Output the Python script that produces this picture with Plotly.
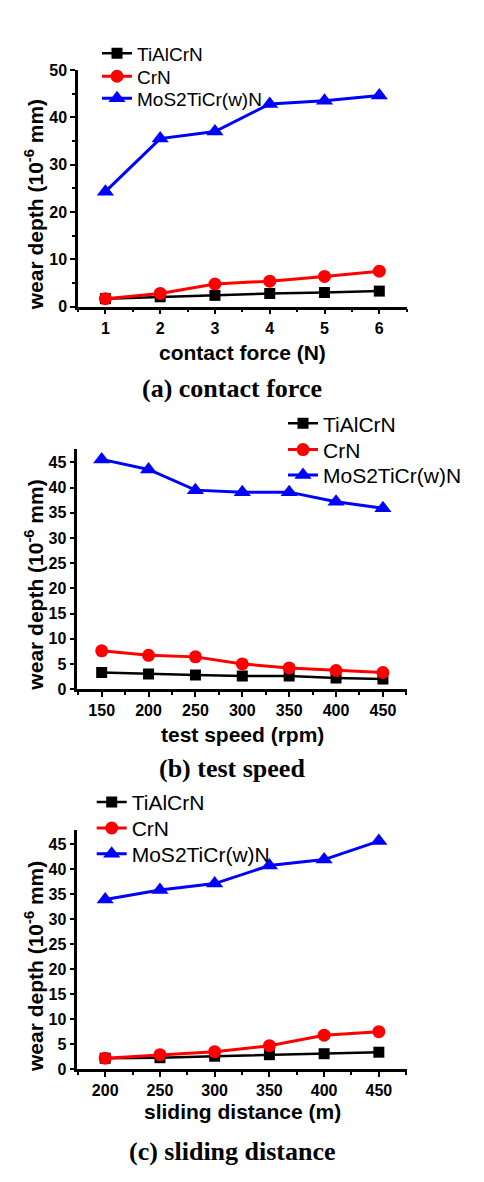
import plotly.graph_objects as go

# ---------------- data ----------------
series_names = ["TiAlCrN", "CrN", "MoS2TiCr(w)N"]

force_x = [1, 2, 3, 4, 5, 6]
force_tialcrn = [1.7, 2.1, 2.4, 2.8, 3.0, 3.3]
force_crn = [1.7, 2.8, 4.8, 5.4, 6.4, 7.5]
force_mos2 = [24.3, 35.5, 37.0, 42.8, 43.5, 44.6]

speed_x = [150, 200, 250, 300, 350, 400, 450]
speed_tialcrn = [3.3, 3.0, 2.8, 2.6, 2.6, 2.2, 2.0]
speed_crn = [7.6, 6.7, 6.4, 5.0, 4.2, 3.7, 3.3]
speed_mos2 = [45.6, 43.6, 39.5, 39.1, 39.1, 37.2, 35.9]

dist_x = [200, 250, 300, 350, 400, 450]
dist_tialcrn = [2.2, 2.3, 2.6, 2.9, 3.1, 3.4]
dist_crn = [2.2, 2.9, 3.5, 4.7, 6.8, 7.5]
dist_mos2 = [33.9, 35.8, 37.1, 40.7, 41.9, 45.6]

x_titles = ["contact force (N)", "test speed (rpm)", "sliding distance (m)"]
captions = ["(a) contact force", "(b) test speed", "(c) sliding distance"]
y_title = "wear depth (10<sup>-6</sup> mm)"

# ---------------- style ----------------
# page body has an 8px margin, so the figure is 8px smaller than the window
W, H = 476, 1174
colors = ["#000000", "#FF0000", "#0000FF"]
symbols = ["square", "circle", "triangle-up"]
msizes = [11, 13, 15]
lwidths = [2.5, 3, 3]

def py(px):
    return 1 - px / H

def pxx(px):
    return px / W

panels = [
    dict(x=force_x, ys=[force_tialcrn, force_crn, force_mos2],
         xdom=[pxx(70), pxx(398.7)], ydom=[py(295), py(54.7)],
         xrange=[0.5, 6.5], yrange=[0, 50], xd=1, xmd=0.5, yd=10, ymd=5,
         yminor=True,
         leg_x=89, leg_y=[38, 61.3, 83.7], fs=19,
         ytitle_y=192, xtitle_y=341, cap_y=378),
    dict(x=speed_x, ys=[speed_tialcrn, speed_crn, speed_mos2],
         xdom=[pxx(69.3), pxx(399.3)], ydom=[py(683), py(439.7)],
         xrange=[124, 476], yrange=[0, 47.6], xd=50, xmd=25, yd=5, ymd=2.5,
         yminor=False,
         leg_x=275, leg_y=[413.7, 440.3, 466], fs=21,
         ytitle_y=578, xtitle_y=729, cap_y=764),
    dict(x=dist_x, ys=[dist_tialcrn, dist_crn, dist_mos2],
         xdom=[pxx(69.3), pxx(399.3)], ydom=[py(1068.7), py(826)],
         xrange=[174.5, 476], yrange=[0, 47.8], xd=50, xmd=25, yd=5, ymd=2.5,
         yminor=False,
         leg_x=83.7, leg_y=[798, 824.3, 850.3], fs=21,
         ytitle_y=965, xtitle_y=1112, cap_y=1152),
]

fig = go.Figure()
layout = dict(width=W, height=H, margin=dict(l=0, r=0, t=0, b=0),
              paper_bgcolor="white", plot_bgcolor="white", annotations=[],
              showlegend=True)

leg_counter = 0
for i, p in enumerate(panels):
    n = "" if i == 0 else str(i + 1)
    for j in range(3):
        leg_counter += 1
        legname = "legend" if leg_counter == 1 else "legend" + str(leg_counter)
        fig.add_trace(go.Scatter(
            x=p["x"], y=p["ys"][j], name=series_names[j],
            mode="lines+markers", showlegend=True,
            line=dict(color=colors[j], width=lwidths[j]),
            marker=dict(symbol=symbols[j], size=msizes[j], color=colors[j]),
            xaxis="x" + n, yaxis="y" + n, legend=legname, cliponaxis=False))
        layout[legname] = dict(x=pxx(p["leg_x"]), y=py(p["leg_y"][j]),
                               xanchor="left", yanchor="middle",
                               bgcolor="rgba(0,0,0,0)", borderwidth=0,
                               visible=True,
                               font=dict(family="Liberation Sans",
                                         size=p["fs"], color="black"))
    axcommon = dict(showgrid=False, zeroline=False, showline=True,
                    linecolor="black", linewidth=2.5, ticks="outside",
                    ticklen=5, tickwidth=2, tickcolor="black",
                    tickfont=dict(family="Liberation Sans", size=16,
                                  color="black", weight="bold"))
    layout["xaxis" + n] = dict(axcommon, domain=p["xdom"], range=p["xrange"],
                               anchor="y" + n, dtick=p["xd"], tick0=0,
                               minor=dict(dtick=p["xmd"], ticks="outside",
                                          ticklen=3, tickwidth=2,
                                          tickcolor="black"))
    layout["yaxis" + n] = dict(axcommon, domain=p["ydom"], range=p["yrange"],
                               anchor="x" + n, dtick=p["yd"], tick0=0,
                               minor=dict(dtick=p["ymd"],
                                          ticks="outside" if p["yminor"] else "",
                                          ticklen=3, tickwidth=2,
                                          tickcolor="black"))
    xc = (p["xdom"][0] + p["xdom"][1]) / 2
    layout["annotations"] += [
        dict(text=y_title, x=pxx(26), y=py(p["ytitle_y"]), xref="paper",
             yref="paper", textangle=-90, showarrow=False,
             xanchor="center", yanchor="middle",
             font=dict(family="Liberation Sans", size=21, color="black",
                       weight="bold")),
        dict(text=x_titles[i], x=xc, y=py(p["xtitle_y"]), xref="paper",
             yref="paper", showarrow=False, xanchor="center",
             yanchor="middle",
             font=dict(family="Liberation Sans", size=21, color="black",
                       weight="bold")),
        dict(text=captions[i], x=pxx(224), y=py(p["cap_y"]), xref="paper",
             yref="paper", showarrow=False, xanchor="center",
             yanchor="middle",
             font=dict(family="Liberation Serif", size=26, color="black",
                       weight="bold")),
    ]

fig.update_layout(**layout)
fig.write_html("out.html", config={"displayModeBar": False})
